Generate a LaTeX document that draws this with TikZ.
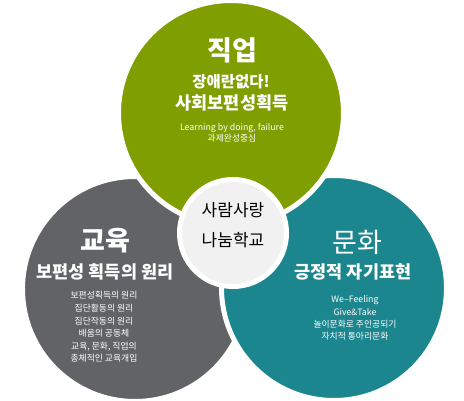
\documentclass[tikz,border=0pt]{standalone}
\usepackage{fontspec}
\usepackage{xcolor}
\usepackage{tikz}
\usetikzlibrary{positioning}
\newfontfamily\krfont{Noto Sans CJK KR}
\definecolor{jobgreen}{RGB}{127,159,0}
\definecolor{edugray}{RGB}{98,99,102}
\definecolor{cultureteal}{RGB}{28,134,143}
\definecolor{centerwhite}{RGB}{241,241,241}

\begin{document}
\begin{tikzpicture}[x=1pt, y=-1pt,
  every node/.style={font=\krfont, text=white, align=center, inner sep=0pt},
  ring/.style={circle, draw=white, line width=5pt, minimum size=225pt},
  title/.style={font=\krfont\bfseries\fontsize{27}{30}\selectfont},
  subtitle/.style={font=\krfont\bfseries\fontsize{17.5}{22}\selectfont},
  detail/.style={font=\krfont\fontsize{8.8}{12.6}\selectfont}
]
\useasboundingbox (0,0) rectangle (464,401);

% three circles, back to front
\node[ring, fill=edugray] (edu) at (135,289) {};
\node[ring, fill=cultureteal] (culture) at (334,288) {};
\node[ring, fill=jobgreen] (job) at (231,113) {};
\node[ring, fill=centerwhite, minimum size=107pt] (school) at (233,233) {};

% job
\node[title] (jobtitle) at (232,50) {직업};
\node[subtitle, font=\krfont\bfseries\fontsize{15.5}{20}\selectfont] (jobsub1) at (231,82) {장애란없다!};
\node[subtitle] (jobsub2) at (232,103) {사회보편성획득};
\node[detail, font=\krfont\fontsize{8.8}{10.5}\selectfont] (jobtext) at (232,133)
  {Learning by doing, failure\\과제완성중심};

% education
\node[title] (edutitle) at (105,241) {교육};
\node[subtitle] (edusub) at (105,272) {보편성 획득의 원리};
\node[detail] (edutext) at (104,327)
  {보편성획득의 원리\\집단활동의 원리\\집단작동의 원리\\배움의 공동체\\교육, 문화, 직업의\\총체적인 교육개입};

% culture
\node[title, font=\krfont\fontsize{27}{30}\selectfont] (culturetitle) at (357,242) {문화};
\node[subtitle] (culturesub) at (353,272) {긍정적 자기표현};
\node[detail, font=\krfont\fontsize{8.8}{12.3}\selectfont] (culturetext) at (355,318)
  {We–Feeling\\Give\&Take\\놀이문화로 주인공되기\\자치적 통아리문화};

% center
\node[text=black, font=\krfont\fontsize{17}{30}\selectfont] (schoolname) at (233,225)
  {사람사랑\\나눔학교};
\end{tikzpicture}
\end{document}
